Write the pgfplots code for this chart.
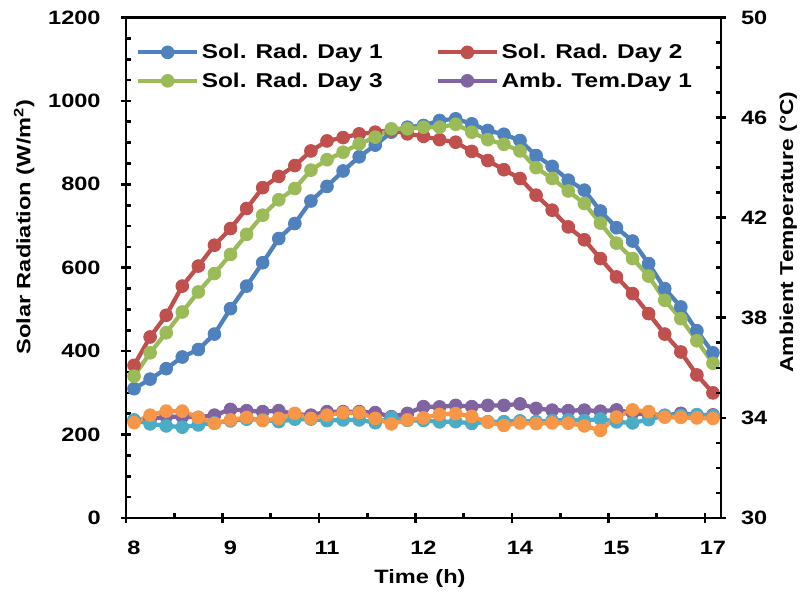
\documentclass[border=0pt]{standalone}
\usepackage{pgfplots}
\pgfplotsset{compat=1.18}
\usepackage{pgfplotstable}
\usepackage{fontspec}
\setmainfont{Liberation Sans}[FakeStretch=1.22]
\definecolor{cB}{HTML}{4F81BD}
\definecolor{cR}{HTML}{C0504D}
\definecolor{cG}{HTML}{9BBB59}
\definecolor{cP}{HTML}{8064A2}
\definecolor{cA}{HTML}{4BACC6}
\definecolor{cO}{HTML}{F79646}
\pgfplotstableread{
t     d1  d2  d3  a1     a2     a3
8.00  310 366 340 33.90  33.92  33.81
8.25  333 434 396 33.95  33.76  34.11
8.50  358 486 444 34.05  33.68  34.27
8.75  386 556 494 34.05  33.63  34.27
9.00  404 604 542 34.02  33.72  34.02
9.25  441 654 586 34.11  33.80  33.78
9.50  502 694 632 34.34  33.88  33.92
9.75  556 742 680 34.29  33.95  34.02
10.00 612 792 726 34.25  33.92  33.89
10.25 670 819 763 34.29  33.85  33.98
10.50 706 845 790 34.15  33.95  34.18
10.75 760 880 834 34.11  33.95  33.98
11.00 795 904 859 34.25  33.89  34.11
11.25 832 912 877 34.25  33.92  34.21
11.50 866 921 897 34.25  33.92  34.21
11.75 894 925 913 34.21  33.81  33.98
12.00 925 930 933 34.05  34.02  33.76
12.25 937 921 933 34.18  33.90  33.92
12.50 941 915 937 34.45  33.90  34.00
12.75 953 907 937 34.44  33.84  34.14
13.00 957 901 944 34.50  33.85  34.17
13.25 945 879 925 34.45  33.78  34.06
13.50 929 857 907 34.50  33.85  33.83
13.75 920 835 896 34.50  33.85  33.70
14.00 905 814 880 34.56  33.88  33.80
14.25 869 774 840 34.38  33.85  33.77
14.50 843 738 814 34.31  33.89  33.80
14.75 810 698 784 34.29  33.92  33.79
15.00 786 667 754 34.31  33.89  33.68
15.25 736 622 707 34.27  33.96  33.50
15.50 696 578 659 34.32  33.84  34.03
15.75 664 538 622 34.20  33.80  34.32
16.00 610 490 580 34.12  33.93  34.25
16.25 550 441 522 34.10  34.10  34.03
16.50 506 398 478 34.18  34.10  34.02
16.75 449 343 425 34.12  34.13  34.00
17.00 396 300 371 34.12  34.08  33.98
}\data
\begin{document}
\begin{tikzpicture}
\pgfplotsset{
  common/.style={
    at={(0,0)}, anchor=south west, scale only axis,
    width=446.25pt, height=375.4pt,
    xmin=7.875, xmax=17.125,
    tick align=center, major tick length=7pt, minor tick length=4pt,
    axis line style={line width=2.2pt},
    tick style={line width=2pt, black},
    tick label style={font=\fontsize{14.5}{16}\selectfont\bfseries},
    label style={font=\fontsize{14.5}{17}\selectfont\bfseries},
    /pgf/number format/assume math mode=true,
  },
  ser/.style={color=#1, line width=3.2pt, mark=*, mark size=4.8pt,
    mark options={solid, fill=#1, draw=#1, line width=0.6pt}},
}
\begin{axis}[common,
  ymin=0, ymax=1200,
  xtick={7.875,9.375,10.875,12.375,13.875,15.375,16.875},
  xticklabels={8,9,11,12,14,15,17},
  xticklabel style={xshift=6pt, yshift=-10pt},
  yticklabel style={xshift=-12pt},
  minor x tick num=1,
  ytick={0,200,...,1200}, yticklabels={0,200,400,600,800,1000,1200},
  minor y tick num=3,
  xtick pos=bottom, ytick pos=left,
  every minor y tick/.append style={xshift=2pt},
  every minor x tick/.append style={yshift=2pt},
  xlabel={Time (h)},
  xlabel style={at={(axis description cs:0.494,-0.12)}, anchor=center},
  ylabel={Solar Radiation (W/m\textsuperscript{2})},
  ylabel style={at={(axis description cs:-0.171,0.581)}, anchor=center},
  legend columns=2,
  legend cell align=left,
  legend style={draw=none, fill=none, at={(axis description cs:0.010,0.958)}, anchor=north west,
    font=\fontsize{15}{18}\selectfont\bfseries, row sep=5pt,
    /tikz/every even column/.append style={column sep=38pt}},
  legend image code/.code={\draw[mark repeat=2, mark phase=2, #1] plot coordinates {(0pt,0pt) (22pt,0pt) (44pt,0pt)};},
]
\addplot[ser=cB] table[x=t, y=d1] {\data};
\addlegendentry{Sol. Rad. Day 1}
\addplot[ser=cR] table[x=t, y=d2] {\data};
\addlegendentry{Sol. Rad. Day 2}
\addplot[ser=cG] table[x=t, y=d3] {\data};
\addlegendentry{Sol. Rad. Day 3}
\addlegendimage{ser=cP}
\addlegendentry{Amb. Tem.Day 1}
\end{axis}
\begin{axis}[common,
  ymin=30, ymax=50,
  axis x line=none, axis y line*=right,
  ytick={30,34,...,50}, yticklabels={30,34,38,42,46,50},
  yticklabel style={xshift=8pt},
  minor y tick num=3,
  every minor y tick/.append style={xshift=-2pt},
  ylabel={Ambient Temperature (°C)},
  ylabel style={font=\fontsize{14}{17}\selectfont\bfseries, at={(axis description cs:1.113,0.571)}, anchor=center},
]
\addplot[ser=cP] table[x=t, y=a1] {\data};
\addplot[ser=cA] table[x=t, y=a2] {\data};
\addplot[ser=cO] table[x=t, y=a3] {\data};
\end{axis}
\pgfresetboundingbox
\useasboundingbox (-94.5pt,-57pt) rectangle (507.75pt,388.5pt);
\end{tikzpicture}
\end{document}
